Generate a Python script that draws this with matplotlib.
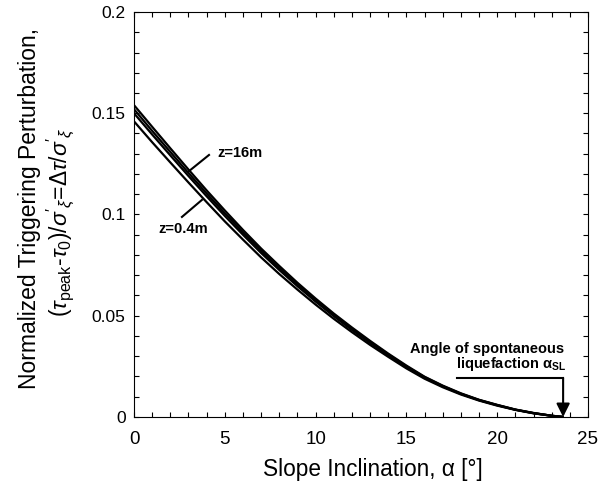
import matplotlib
matplotlib.use("Agg")
import matplotlib.pyplot as plt
from matplotlib.ticker import MultipleLocator

plt.rcParams['font.family'] = ['Liberation Sans', 'DejaVu Sans']
plt.rcParams['mathtext.fontset'] = 'custom'
plt.rcParams['mathtext.rm'] = 'Liberation Sans'
plt.rcParams['mathtext.it'] = 'Liberation Sans:italic'
plt.rcParams['mathtext.bf'] = 'Liberation Sans:bold'

# slope inclination (deg)
alpha = [0, 1, 2, 3, 4, 5, 6, 7, 8, 9, 10, 11, 12, 13, 14, 15, 16, 17, 18, 19, 20, 21, 22, 23, 23.65]
# normalized triggering perturbation for several depths
z04 = [0.1460, 0.1357, 0.1257, 0.1158, 0.1061, 0.0966, 0.0876, 0.0788, 0.0706, 0.0629, 0.0555,
       0.0485, 0.0419, 0.0356, 0.0297, 0.0240, 0.0189, 0.0147, 0.0111, 0.0081, 0.0056, 0.0035,
       0.0018, 0.0006, 0.0]
z1 = [0.1500, 0.1395, 0.1292, 0.1190, 0.1090, 0.0993, 0.0900, 0.0810, 0.0726, 0.0646, 0.0570,
      0.0498, 0.0430, 0.0366, 0.0305, 0.0247, 0.0194, 0.0151, 0.0114, 0.0083, 0.0058, 0.0036,
      0.0019, 0.0006, 0.0]
z4 = [0.1520, 0.1413, 0.1309, 0.1205, 0.1104, 0.1006, 0.0912, 0.0821, 0.0735, 0.0654, 0.0577,
      0.0504, 0.0436, 0.0371, 0.0309, 0.0250, 0.0197, 0.0153, 0.0115, 0.0084, 0.0059, 0.0036,
      0.0019, 0.0006, 0.0]
z16 = [0.1540, 0.1433, 0.1327, 0.1222, 0.1119, 0.1020, 0.0924, 0.0832, 0.0746, 0.0663, 0.0585,
       0.0511, 0.0442, 0.0376, 0.0313, 0.0254, 0.0199, 0.0155, 0.0117, 0.0085, 0.0060, 0.0037,
       0.0020, 0.0006, 0.0]
series = [z04, z1, z4, z16]

alpha_sl = 23.63

fig = plt.figure(figsize=(6.08, 4.86), dpi=100)
ax = fig.add_axes([0.2204, 0.1420, 0.7467, 0.8333])

for s in series:
    ax.plot(alpha, s, color='black', lw=1.6, solid_capstyle='butt')

ax.set_xlim(0, 25)
ax.set_ylim(0, 0.2)
ax.xaxis.set_minor_locator(MultipleLocator(1))
ax.yaxis.set_minor_locator(MultipleLocator(0.01))
ax.set_xticks([0, 5, 10, 15, 20, 25])
ax.set_xticklabels(['0', '5', '10', '15', '20', '25'])
ax.set_yticks([0, 0.05, 0.1, 0.15, 0.2])
ax.set_yticklabels(['0', '0.05', '0.1', '0.15', '0.2'])
ax.tick_params(which='both', direction='in', top=True, right=True, length=3.5, width=0.8)
ax.tick_params(axis='x', which='major', labelsize=13.5, pad=10)
ax.tick_params(axis='y', which='major', labelsize=12.5, pad=6)
for sp in ax.spines.values():
    sp.set_linewidth(0.8)

# depth labels
ax.plot([2.97, 4.13], [0.121, 0.1294], color='black', lw=1.5)
ax.text(4.57, 0.1304, 'z=16m', fontsize=10.5, fontweight='bold', va='center', ha='left')
ax.plot([3.74, 2.64], [0.1072, 0.0988], color='black', lw=1.5)
ax.text(1.32, 0.0928, 'z=0.4m', fontsize=10.5, fontweight='bold', va='center', ha='left')

# angle of spontaneous liquefaction
ax.plot([17.79, alpha_sl], [0.0193, 0.0193], color='black', lw=1.5)
ax.annotate('', xy=(alpha_sl, 0.0), xytext=(alpha_sl, 0.0193),
            arrowprops=dict(arrowstyle='-|>', color='black', lw=1.5, mutation_scale=20,
                            shrinkA=0, shrinkB=0))
ax.text(23.68, 0.0318, 'Angle of spontaneous', fontsize=10.5, fontweight='bold', ha='right', va='baseline')
ax.text(23.78, 0.0240, r'liquefaction $\mathbf{\alpha}_{\mathbf{SL}}$', fontsize=10.5,
        fontweight='bold', ha='right', va='baseline')

fig.text(0.613, 0.033, 'Slope Inclination, α [°]', fontsize=16.3, ha='center', va='center')
fig.text(0.049, 0.570, 'Normalized Triggering Perturbation,', fontsize=16.5, rotation=90,
         ha='center', va='center')
fig.text(0.099, 0.543, r"($\tau_{\mathrm{peak}}$-$\tau_{0}$)/$\sigma'_{\xi}$=$\Delta\tau$/$\sigma'_{\xi}$",
         fontsize=16.5, rotation=90, ha='center', va='center')

fig.savefig('out.png', dpi=100)
